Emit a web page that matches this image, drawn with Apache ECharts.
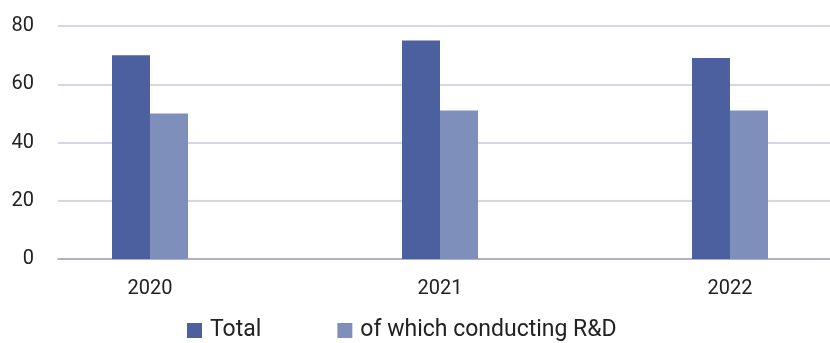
<!DOCTYPE html>
<html>
<head>
<meta charset="utf-8">
<script src="https://cdn.jsdelivr.net/npm/echarts@6/dist/echarts.min.js"></script>
<style>
  html, body { margin: 0; padding: 0; background: #ffffff; }
  #chart { width: 830px; height: 343px; }
</style>
</head>
<body>
<div id="chart"></div>
<script>
// Years on the category axis
const years = ['2020', '2021', '2022'];
// Number of enterprises, total and those conducting R&D
const totalValues = [70, 75, 69];
const rdValues = [50, 51, 51];
// Value axis ticks
const yMin = 0;
const yMax = 80;
const yStep = 20;

const FONT = 'Roboto';
const chart = echarts.init(document.getElementById('chart'), null, { renderer: 'canvas' });

chart.setOption({
  animation: false,
  textStyle: { fontFamily: FONT },
  legend: {
    left: 187,
    top: 319,
    padding: 0,
    itemWidth: 15,
    itemHeight: 15,
    itemGap: 76,
    icon: 'rect',
    textStyle: { fontFamily: FONT, fontSize: 23, color: '#222222', padding: [0, 0, 0, 3] },
    data: ['Total', 'of which conducting R&D']
  },
  grid: [
    // plot frame carrying the value gridlines and labels
    { left: 58, right: 0, top: 26, bottom: 84 },
    // category band area for the bars (wider than the visible frame)
    { left: 5, width: 870, top: 26, bottom: 84, outerBoundsMode: 'none', containLabel: false }
  ],
  xAxis: [
    {
      gridIndex: 0,
      type: 'category',
      data: years,
      axisLine: { show: true, lineStyle: { color: '#a4a4bd', width: 1.5 } },
      axisTick: { show: false },
      axisLabel: { show: false }
    },
    {
      gridIndex: 1,
      type: 'category',
      data: years,
      axisLine: { show: false },
      axisTick: { show: false },
      axisLabel: { fontFamily: FONT, fontSize: 20, color: '#222222', margin: 20 }
    }
  ],
  yAxis: [
    {
      gridIndex: 0,
      type: 'value',
      min: yMin,
      max: yMax,
      interval: yStep,
      axisLine: { show: false },
      axisTick: { show: false },
      axisLabel: { fontFamily: FONT, fontSize: 20, color: '#222222', margin: 24 },
      splitLine: { lineStyle: { color: '#c9c9e0', width: 1.5 } }
    },
    {
      gridIndex: 1,
      type: 'value',
      min: yMin,
      max: yMax,
      interval: yStep,
      show: false
    }
  ],
  series: [
    {
      name: 'Total',
      type: 'bar',
      xAxisIndex: 1,
      yAxisIndex: 1,
      data: totalValues,
      barWidth: 38,
      barGap: '0%',
      itemStyle: { color: '#4c5f9e' }
    },
    {
      name: 'of which conducting R&D',
      type: 'bar',
      xAxisIndex: 1,
      yAxisIndex: 1,
      data: rdValues,
      barWidth: 38,
      barGap: '0%',
      itemStyle: { color: '#7f8fbb' }
    }
  ]
});
</script>
</body>
</html>
